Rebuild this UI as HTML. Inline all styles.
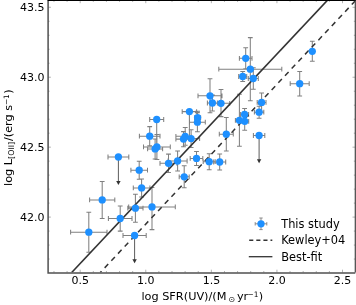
<!DOCTYPE html><html><head><meta charset="utf-8"><title>plot</title><style>html,body{margin:0;padding:0;background:#fff}svg{display:block;will-change:transform}text{font-family:"DejaVu Sans","Liberation Sans",sans-serif;fill:#000}</style></head><body>
<svg width="356" height="305" viewBox="0 0 356 305">
<rect width="356" height="305" fill="#fff"/>
<path d="M53.97 272.5v-1.5M53.97 0.4v1.5M67.09 272.5v-1.5M67.09 0.4v1.5M80.20 272.5v-2.8M80.20 0.4v2.8M93.31 272.5v-1.5M93.31 0.4v1.5M106.43 272.5v-1.5M106.43 0.4v1.5M119.55 272.5v-1.5M119.55 0.4v1.5M132.66 272.5v-1.5M132.66 0.4v1.5M145.78 272.5v-2.8M145.78 0.4v2.8M158.89 272.5v-1.5M158.89 0.4v1.5M172.00 272.5v-1.5M172.00 0.4v1.5M185.12 272.5v-1.5M185.12 0.4v1.5M198.24 272.5v-1.5M198.24 0.4v1.5M211.35 272.5v-2.8M211.35 0.4v2.8M224.47 272.5v-1.5M224.47 0.4v1.5M237.58 272.5v-1.5M237.58 0.4v1.5M250.69 272.5v-1.5M250.69 0.4v1.5M263.81 272.5v-1.5M263.81 0.4v1.5M276.93 272.5v-2.8M276.93 0.4v2.8M290.04 272.5v-1.5M290.04 0.4v1.5M303.16 272.5v-1.5M303.16 0.4v1.5M316.27 272.5v-1.5M316.27 0.4v1.5M329.38 272.5v-1.5M329.38 0.4v1.5M342.50 272.5v-2.8M342.50 0.4v2.8M48.1 259.06h1.5M355.3 259.06h-1.5M48.1 245.07h1.5M355.3 245.07h-1.5M48.1 231.09h1.5M355.3 231.09h-1.5M48.1 217.10h2.8M355.3 217.10h-2.8M48.1 203.11h1.5M355.3 203.11h-1.5M48.1 189.13h1.5M355.3 189.13h-1.5M48.1 175.14h1.5M355.3 175.14h-1.5M48.1 161.15h1.5M355.3 161.15h-1.5M48.1 147.16h2.8M355.3 147.16h-2.8M48.1 133.18h1.5M355.3 133.18h-1.5M48.1 119.19h1.5M355.3 119.19h-1.5M48.1 105.20h1.5M355.3 105.20h-1.5M48.1 91.22h1.5M355.3 91.22h-1.5M48.1 77.23h2.8M355.3 77.23h-2.8M48.1 63.24h1.5M355.3 63.24h-1.5M48.1 49.26h1.5M355.3 49.26h-1.5M48.1 35.27h1.5M355.3 35.27h-1.5M48.1 21.28h1.5M355.3 21.28h-1.5M48.1 7.29h2.8M355.3 7.29h-2.8" stroke="#666" stroke-width="0.5" fill="none"/>
<clipPath id="c"><rect x="48.1" y="0.4" width="307.2" height="272.1"/></clipPath>
<g clip-path="url(#c)">
<path d="M70.6 232.2H107.0M70.6 229.8v4.8M107.0 229.8v4.8M88.8 212.2V252.2M86.4 212.2h4.8M86.4 252.2h4.8M89.6 199.9H114.8M89.6 197.5v4.8M114.8 197.5v4.8M102.2 181.4V218.4M99.8 181.4h4.8M99.8 218.4h4.8M108.4 218.5H132.0M108.4 216.1v4.8M132.0 216.1v4.8M120.2 205.9V231.1M117.8 205.9h4.8M117.8 231.1h4.8M127.8 208.2H143.0M127.8 205.8v4.8M143.0 205.8v4.8M135.4 194.2V222.2M133.0 194.2h4.8M133.0 222.2h4.8M123.0 235.5H146.2M123.0 233.1v4.8M146.2 233.1v4.8M108.0 157.0H128.8M108.0 154.6v4.8M128.8 154.6v4.8M130.9 170.2H147.5M130.9 167.8v4.8M147.5 167.8v4.8M139.2 161.2V179.2M136.8 161.2h4.8M136.8 179.2h4.8M133.3 187.9H149.9M133.3 185.5v4.8M149.9 185.5v4.8M141.6 178.9V196.9M139.2 178.9h4.8M139.2 196.9h4.8M128.7 206.9H175.3M128.7 204.5v4.8M175.3 204.5v4.8M152.0 187.4V229.6M149.6 187.4h4.8M149.6 229.6h4.8M139.4 136.2H160.0M139.4 133.8v4.8M160.0 133.8v4.8M149.7 126.6V145.8M147.3 126.6h4.8M147.3 145.8h4.8M149.7 119.5H163.7M149.7 117.1v4.8M163.7 117.1v4.8M156.7 119.5V146.5M147.6 148.9H162.6M147.6 146.5v4.8M162.6 146.5v4.8M155.1 138.9V158.9M152.7 138.9h4.8M152.7 158.9h4.8M143.5 146.9H170.3M143.5 144.5v4.8M170.3 144.5v4.8M156.9 134.4V159.4M154.5 134.4h4.8M154.5 159.4h4.8M160.0 163.3H177.0M160.0 160.9v4.8M177.0 160.9v4.8M168.5 154.1V172.5M166.1 154.1h4.8M166.1 172.5h4.8M168.1 161.0H187.1M168.1 158.6v4.8M187.1 158.6v4.8M177.6 151.0V171.0M175.2 151.0h4.8M175.2 171.0h4.8M179.2 176.8H189.2M179.2 174.4v4.8M189.2 174.4v4.8M184.2 165.8V187.8M181.8 165.8h4.8M181.8 187.8h4.8M190.2 158.4H202.8M190.2 156.0v4.8M202.8 156.0v4.8M196.5 151.4V165.4M194.1 151.4h4.8M194.1 165.4h4.8M203.2 161.7H215.2M203.2 159.3v4.8M215.2 159.3v4.8M209.2 153.7V169.7M206.8 153.7h4.8M206.8 169.7h4.8M213.7 162.0H225.7M213.7 159.6v4.8M225.7 159.6v4.8M219.7 154.0V170.0M217.3 154.0h4.8M217.3 170.0h4.8M182.2 111.6H196.6M182.2 109.2v4.8M196.6 109.2v4.8M189.4 111.6V136.6M194.6 117.6H200.6M194.6 115.2v4.8M200.6 115.2v4.8M197.6 111.2V124.0M195.2 111.2h4.8M195.2 124.0h4.8M189.5 122.2H205.3M189.5 119.8v4.8M205.3 119.8v4.8M197.4 112.6V131.8M195.0 112.6h4.8M195.0 131.8h4.8M175.9 136.3H191.2M175.9 133.9v4.8M191.2 133.9v4.8M185.2 127.4V145.2M182.8 127.4h4.8M182.8 145.2h4.8M175.9 139.1H191.1M175.9 136.7v4.8M191.1 136.7v4.8M183.5 131.6V146.7M181.1 131.6h4.8M181.1 146.7h4.8M186.1 138.6H199.6M186.1 136.2v4.8M199.6 136.2v4.8M191.1 129.8V147.4M188.7 129.8h4.8M188.7 147.4h4.8M198.0 95.8H222.0M198.0 93.4v4.8M222.0 93.4v4.8M210.0 78.8V112.8M207.6 78.8h4.8M207.6 112.8h4.8M207.4 103.0H217.4M207.4 100.6v4.8M217.4 100.6v4.8M212.4 95.0V111.0M210.0 95.0h4.8M210.0 111.0h4.8M212.3 103.3H229.7M212.3 100.9v4.8M229.7 100.9v4.8M221.0 89.5V116.6M218.6 89.5h4.8M218.6 116.6h4.8M219.3 134.2H233.3M219.3 131.8v4.8M233.3 131.8v4.8M226.3 117.5V150.9M223.9 117.5h4.8M223.9 150.9h4.8M235.4 120.3H243.4M235.4 117.9v4.8M243.4 117.9v4.8M239.4 94.3V146.3M237.0 94.3h4.8M237.0 146.3h4.8M240.6 114.5H248.6M240.6 112.1v4.8M248.6 112.1v4.8M244.6 108.5V120.5M242.2 108.5h4.8M242.2 120.5h4.8M240.7 121.3H248.7M240.7 118.9v4.8M248.7 118.9v4.8M244.7 112.3V130.3M242.3 112.3h4.8M242.3 130.3h4.8M254.4 112.2H263.8M254.4 109.8v4.8M263.8 109.8v4.8M259.1 106.2V118.2M256.7 106.2h4.8M256.7 118.2h4.8M257.2 102.4H266.0M257.2 100.0v4.8M266.0 100.0v4.8M261.6 92.9V111.9M259.2 92.9h4.8M259.2 111.9h4.8M253.4 135.5H264.8M253.4 133.1v4.8M264.8 133.1v4.8M239.4 58.3H252.0M239.4 55.9v4.8M252.0 55.9v4.8M245.7 47.8V68.8M243.3 47.8h4.8M243.3 68.8h4.8M218.8 69.2H281.8M218.8 66.8v4.8M281.8 66.8v4.8M250.3 37.6V100.8M247.9 37.6h4.8M247.9 100.8h4.8M238.7 76.5H246.7M238.7 74.1v4.8M246.7 74.1v4.8M242.7 71.5V81.5M240.3 71.5h4.8M240.3 81.5h4.8M248.3 78.5H258.3M248.3 76.1v4.8M258.3 76.1v4.8M253.3 67.8V89.2M250.9 67.8h4.8M250.9 89.2h4.8M290.2 83.7H309.2M290.2 81.3v4.8M309.2 81.3v4.8M299.7 71.5V95.9M297.3 71.5h4.8M297.3 95.9h4.8M310.8 51.3H313.8M310.8 48.9v4.8M313.8 48.9v4.8M312.3 41.3V61.3M309.9 41.3h4.8M309.9 61.3h4.8" stroke="#808080" stroke-width="1.05" fill="none"/>
<path d="M134.6 235.5V260.3" stroke="#4a4a4a" stroke-width="0.9" fill="none"/>
<path d="M132.4 259.3L134.6 263.3L136.8 259.3Z" fill="#333333"/>
<path d="M118.4 157.0V182.0" stroke="#4a4a4a" stroke-width="0.9" fill="none"/>
<path d="M116.2 181.0L118.4 185.0L120.6 181.0Z" fill="#333333"/>
<path d="M259.1 135.5V160.3" stroke="#4a4a4a" stroke-width="0.9" fill="none"/>
<path d="M256.9 159.3L259.1 163.3L261.3 159.3Z" fill="#333333"/>
<path d="M71.7 272.5L327.3 0.4" stroke="#333333" stroke-width="1.6" fill="none"/>
<path d="M100.3 272.5L355.6 0.5" stroke="#333333" stroke-width="1.5" stroke-dasharray="5.2 4.56" stroke-dashoffset="3.4" fill="none"/>
<circle cx="88.8" cy="232.2" r="3.65" fill="#1e90ff"/>
<circle cx="102.2" cy="199.9" r="3.65" fill="#1e90ff"/>
<circle cx="120.2" cy="218.5" r="3.65" fill="#1e90ff"/>
<circle cx="135.4" cy="208.2" r="3.65" fill="#1e90ff"/>
<circle cx="134.6" cy="235.5" r="3.65" fill="#1e90ff"/>
<circle cx="118.4" cy="157.0" r="3.65" fill="#1e90ff"/>
<circle cx="139.2" cy="170.2" r="3.65" fill="#1e90ff"/>
<circle cx="141.6" cy="187.9" r="3.65" fill="#1e90ff"/>
<circle cx="152.0" cy="206.9" r="3.65" fill="#1e90ff"/>
<circle cx="149.7" cy="136.2" r="3.65" fill="#1e90ff"/>
<circle cx="156.7" cy="119.5" r="3.65" fill="#1e90ff"/>
<circle cx="155.1" cy="148.9" r="3.65" fill="#1e90ff"/>
<circle cx="156.9" cy="146.9" r="3.65" fill="#1e90ff"/>
<circle cx="168.5" cy="163.3" r="3.65" fill="#1e90ff"/>
<circle cx="177.6" cy="161.0" r="3.65" fill="#1e90ff"/>
<circle cx="184.2" cy="176.8" r="3.65" fill="#1e90ff"/>
<circle cx="196.5" cy="158.4" r="3.65" fill="#1e90ff"/>
<circle cx="209.2" cy="161.7" r="3.65" fill="#1e90ff"/>
<circle cx="219.7" cy="162.0" r="3.65" fill="#1e90ff"/>
<circle cx="189.4" cy="111.6" r="3.65" fill="#1e90ff"/>
<circle cx="197.6" cy="117.6" r="3.65" fill="#1e90ff"/>
<circle cx="197.4" cy="122.2" r="3.65" fill="#1e90ff"/>
<circle cx="185.2" cy="136.3" r="3.65" fill="#1e90ff"/>
<circle cx="183.5" cy="139.1" r="3.65" fill="#1e90ff"/>
<circle cx="191.1" cy="138.6" r="3.65" fill="#1e90ff"/>
<circle cx="210.0" cy="95.8" r="3.65" fill="#1e90ff"/>
<circle cx="212.4" cy="103.0" r="3.65" fill="#1e90ff"/>
<circle cx="221.0" cy="103.3" r="3.65" fill="#1e90ff"/>
<circle cx="226.3" cy="134.2" r="3.65" fill="#1e90ff"/>
<circle cx="239.4" cy="120.3" r="3.65" fill="#1e90ff"/>
<circle cx="244.6" cy="114.5" r="3.65" fill="#1e90ff"/>
<circle cx="244.7" cy="121.3" r="3.65" fill="#1e90ff"/>
<circle cx="259.1" cy="112.2" r="3.65" fill="#1e90ff"/>
<circle cx="261.6" cy="102.4" r="3.65" fill="#1e90ff"/>
<circle cx="259.1" cy="135.5" r="3.65" fill="#1e90ff"/>
<circle cx="245.7" cy="58.3" r="3.65" fill="#1e90ff"/>
<circle cx="250.3" cy="69.2" r="3.65" fill="#1e90ff"/>
<circle cx="242.7" cy="76.5" r="3.65" fill="#1e90ff"/>
<circle cx="253.3" cy="78.5" r="3.65" fill="#1e90ff"/>
<circle cx="299.7" cy="83.7" r="3.65" fill="#1e90ff"/>
<circle cx="312.3" cy="51.3" r="3.65" fill="#1e90ff"/>
</g>
<path d="M48.1 0.4V272.9H355.3" stroke="#505050" stroke-width="1.5" fill="none"/>
<path d="M47.5 0.4H356.0" stroke="#000" stroke-width="1.4" fill="none"/>
<path d="M355.3 0.4V272.5" stroke="#444" stroke-width="1.2" fill="none"/>
<text x="80.2" y="284.3" font-size="11" text-anchor="middle">0.5</text>
<text x="145.8" y="284.3" font-size="11" text-anchor="middle">1.0</text>
<text x="211.4" y="284.3" font-size="11" text-anchor="middle">1.5</text>
<text x="276.9" y="284.3" font-size="11" text-anchor="middle">2.0</text>
<text x="342.5" y="284.3" font-size="11" text-anchor="middle">2.5</text>
<text x="44.5" y="220.7" font-size="11" text-anchor="end">42.0</text>
<text x="44.5" y="150.8" font-size="11" text-anchor="end">42.5</text>
<text x="44.5" y="80.8" font-size="11" text-anchor="end">43.0</text>
<text x="44.5" y="10.9" font-size="11" text-anchor="end">43.5</text>
<text x="141.4" y="300.4" font-size="11.3">log SFR(UV)/(M<tspan font-size="7.9" dy="1.8" dx="2.1">⊙</tspan><tspan dy="-1.8" dx="1.7">yr</tspan><tspan font-size="7.4" dy="-3.4" dx="-0.8">−1</tspan><tspan dy="3.4" dx="0.4">)</tspan></text>
<text transform="translate(12.3 137.7) rotate(-90)" font-size="11.3" text-anchor="middle">log L<tspan font-size="7.9" dy="1.8">[OII]</tspan><tspan dy="-1.8" dx="0.8">/(erg s</tspan><tspan font-size="7.4" dy="-3.6" dx="-0.3">−1</tspan><tspan dy="3.6" dx="0.4">)</tspan></text>
<path d="M255.2 223.8h11.6M255.2 222.10000000000002v3.4M266.8 222.10000000000002v3.4M261.0 218.0v11.6M259.3 218.0h3.4M259.3 229.60000000000002h3.4" stroke="#808080" stroke-width="0.9" fill="none"/>
<circle cx="261.0" cy="223.8" r="3.65" fill="#1e90ff"/>
<path d="M249.2 240.3H272.3" stroke="#333333" stroke-width="1.45" stroke-dasharray="4.1 3.0" fill="none"/>
<path d="M248.8 256.7H272.4" stroke="#333333" stroke-width="1.3" fill="none"/>
<text x="281.2" y="227.9" font-size="11.4">This study</text>
<text x="281.2" y="244.2" font-size="11.4">Kewley+04</text>
<text x="281.2" y="260.5" font-size="11.4">Best-fit</text>
</svg></body></html>
